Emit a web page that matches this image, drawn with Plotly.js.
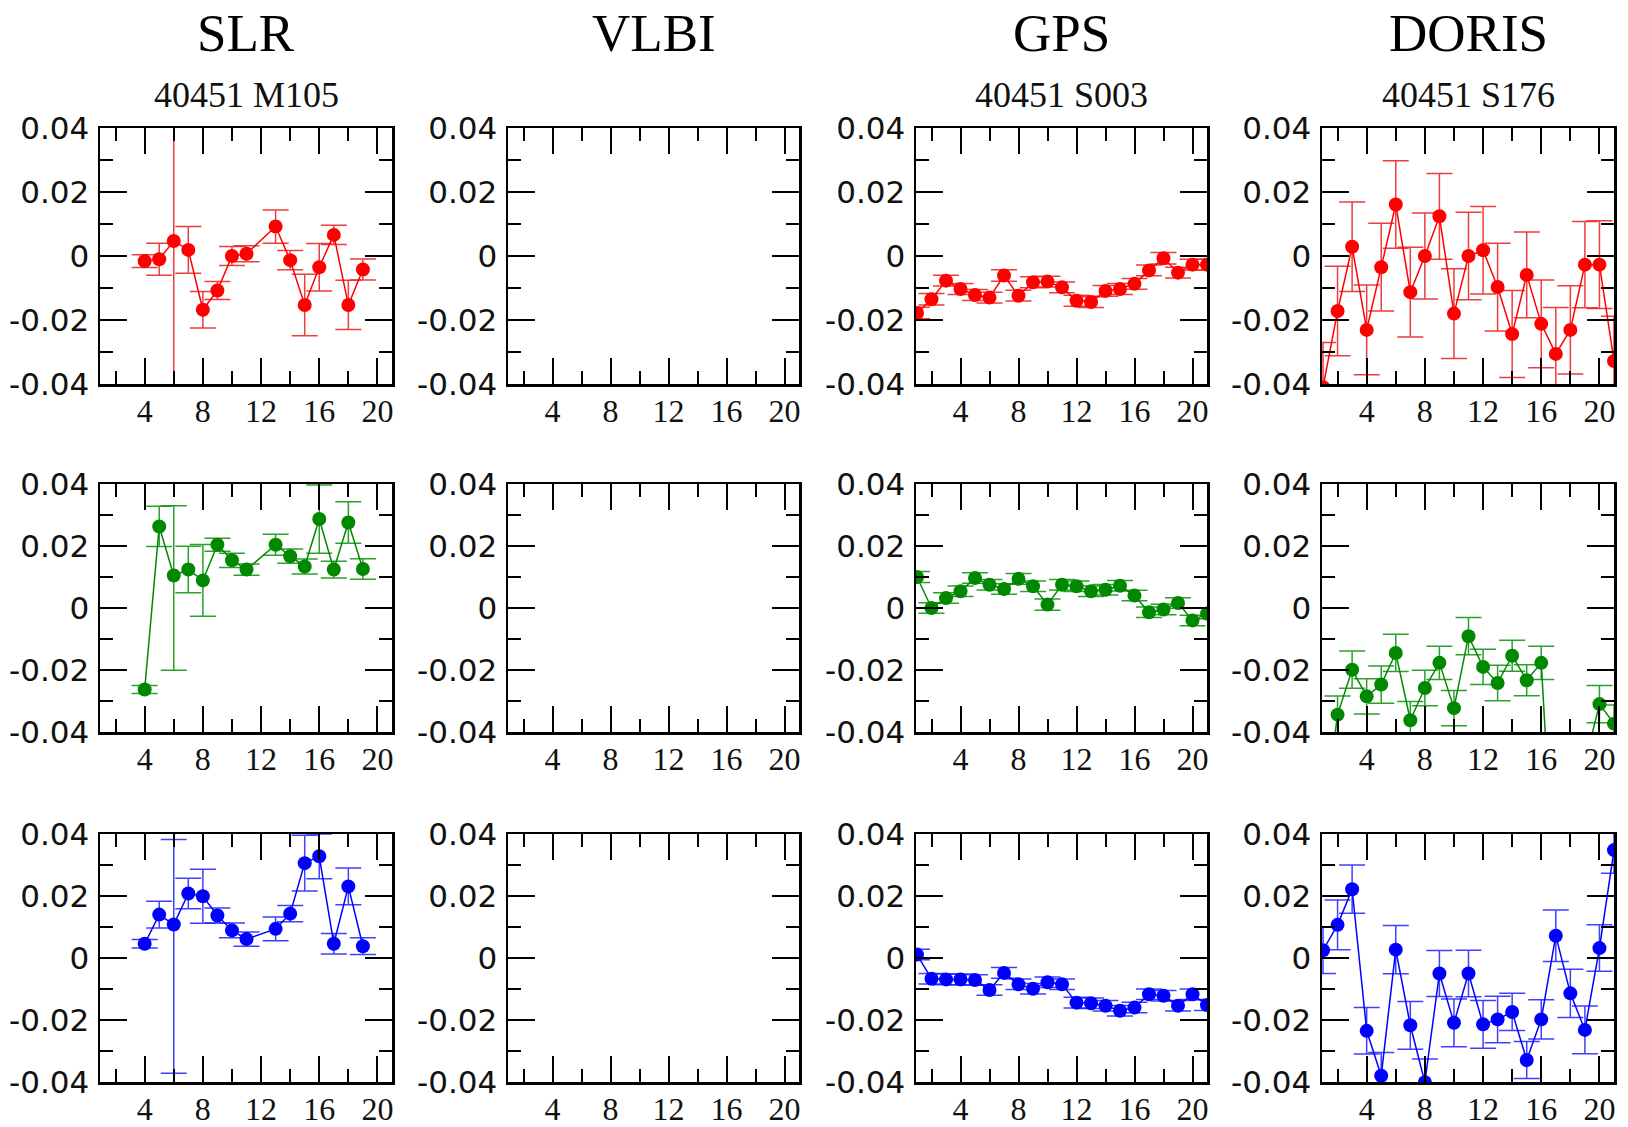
<!DOCTYPE html>
<html>
<head>
<meta charset="utf-8">
<script src="https://cdn.plot.ly/plotly-3.0.1.min.js"></script>
<style>html,body{margin:0;padding:0;background:#fff;}#chart{width:1628px;height:1127px;}</style>
</head>
<body>
<div id="chart"></div>
<script>
// ---------- data ----------
const techniques = ["SLR", "VLBI", "GPS", "DORIS"];
const stationLabels = ["40451 M105", "", "40451 S003", "40451 S176"];
const xTickVals = [4, 8, 12, 16, 20];
const xTickText = ["4", "8", "12", "16", "20"];
const xMinorVals = [2, 6, 10, 14, 18];
const yTickVals = [-0.04, -0.02, 0, 0.02, 0.04];
const yTickText = ["-0.04", "-0.02", "0", "0.02", "0.04"];
const yMinorVals = [-0.03, -0.01, 0.01, 0.03];

// SLR
const slrX = [4, 5, 6, 7, 8, 9, 10, 11, 13, 14, 15, 16, 17, 18, 19];
const slrRed = [-0.0016, -0.001, 0.0047, 0.0019, -0.0168, -0.0108, 0.0, 0.0007, 0.0092, -0.0013, -0.0153, -0.0035, 0.0066, -0.0153, -0.0042];
const slrRedErrPlus = [0.002, 0.005, 0.1, 0.0073, 0.0057, 0.0028, 0.003, 0.0025, 0.0052, 0.003, 0.0096, 0.0074, 0.003, 0.0077, 0.0033];
const slrRedErrMinus = [0.002, 0.005, 0.1, 0.0073, 0.0057, 0.0028, 0.003, 0.0025, 0.0052, 0.003, 0.0096, 0.0074, 0.003, 0.0077, 0.0033];
const slrGreen = [-0.0263, 0.0263, 0.0105, 0.0124, 0.0089, 0.0204, 0.0154, 0.0124, 0.0204, 0.0167, 0.0134, 0.0287, 0.0124, 0.0276, 0.0126];
const slrGreenErrPlus = [0.0013, 0.0065, 0.0225, 0.0075, 0.0116, 0.0021, 0.0023, 0.0018, 0.0034, 0.0023, 0.0024, 0.011, 0.0027, 0.0067, 0.0033];
const slrGreenErrMinus = [0.0013, 0.0065, 0.0306, 0.0075, 0.0116, 0.0021, 0.0023, 0.0018, 0.0034, 0.0023, 0.0024, 0.011, 0.0027, 0.0067, 0.0033];
const slrBlue = [0.0046, 0.014, 0.0108, 0.0208, 0.0199, 0.0137, 0.0089, 0.0061, 0.0094, 0.0143, 0.0306, 0.0328, 0.0046, 0.0231, 0.0038];
const slrBlueErrPlus = [0.0014, 0.0043, 0.0274, 0.0049, 0.0087, 0.0024, 0.0024, 0.0023, 0.0038, 0.0026, 0.009, 0.0072, 0.0033, 0.0059, 0.0027];
const slrBlueErrMinus = [0.0014, 0.0043, 0.048, 0.0049, 0.0087, 0.0024, 0.0024, 0.0023, 0.0038, 0.0026, 0.009, 0.0072, 0.0033, 0.0059, 0.0027];

// GPS
const gpsX = [1, 2, 3, 4, 5, 6, 7, 8, 9, 10, 11, 12, 13, 14, 15, 16, 17, 18, 19, 20, 21];
const gpsRed = [-0.0178, -0.0135, -0.0077, -0.0103, -0.0122, -0.013, -0.0061, -0.0124, -0.0082, -0.008, -0.0098, -0.014, -0.0144, -0.0109, -0.0103, -0.0087, -0.0045, -0.0007, -0.0052, -0.0027, -0.0027];
const gpsRedErr = [0.0018, 0.0018, 0.0017, 0.0017, 0.0017, 0.0017, 0.0018, 0.0017, 0.0017, 0.0017, 0.0017, 0.0017, 0.0017, 0.0017, 0.0017, 0.0017, 0.0017, 0.0018, 0.0017, 0.0017, 0.0017];
const gpsGreen = [0.010, 0.0, 0.0032, 0.0054, 0.0097, 0.0075, 0.0061, 0.0094, 0.007, 0.0011, 0.0075, 0.007, 0.0054, 0.0059, 0.0072, 0.004, -0.0014, -0.0005, 0.0016, -0.004, -0.0018];
const gpsGreenErr = [0.0018, 0.0017, 0.0017, 0.0017, 0.0017, 0.0017, 0.0017, 0.0017, 0.0017, 0.0018, 0.0017, 0.0017, 0.0017, 0.0017, 0.0017, 0.0017, 0.0017, 0.0017, 0.0017, 0.0017, 0.0017];
const gpsBlue = [0.0011, -0.0067, -0.0069, -0.0069, -0.0071, -0.0103, -0.0048, -0.0085, -0.0099, -0.0078, -0.0085, -0.0144, -0.0146, -0.0154, -0.017, -0.016, -0.0117, -0.0122, -0.0154, -0.0117, -0.0152];
const gpsBlueErr = [0.0017, 0.0017, 0.0017, 0.0017, 0.0017, 0.0017, 0.0017, 0.0017, 0.0017, 0.0017, 0.0017, 0.0017, 0.0017, 0.0017, 0.0017, 0.0017, 0.0017, 0.0017, 0.0017, 0.0017, 0.0017];

// DORIS
const dorisX = [1, 2, 3, 4, 5, 6, 7, 8, 9, 10, 11, 12, 13, 14, 15, 16, 17, 18, 19, 20, 21];
const dorisRed = [-0.041, -0.0172, 0.0029, -0.0231, -0.0035, 0.0161, -0.0113, 0.0, 0.0124, -0.018, 0.0, 0.0018, -0.0097, -0.0244, -0.0059, -0.0212, -0.0306, -0.0231, -0.0027, -0.0027, -0.0328];
const dorisRedErr = [0.014, 0.014, 0.014, 0.014, 0.0137, 0.0137, 0.014, 0.0134, 0.0134, 0.014, 0.0137, 0.0137, 0.0137, 0.0136, 0.0134, 0.0137, 0.0145, 0.0138, 0.0135, 0.0137, 0.014];
const dorisGreen = [-0.07, -0.0344, -0.0199, -0.0285, -0.0247, -0.0145, -0.0362, -0.0258, -0.0177, -0.0323, -0.0091, -0.019, -0.0242, -0.0154, -0.0233, -0.0177, -0.1, -0.08, -0.05, -0.031, -0.0373];
const dorisGreenErr = [0.006, 0.006, 0.006, 0.0057, 0.006, 0.006, 0.006, 0.0057, 0.0054, 0.0057, 0.006, 0.0057, 0.0057, 0.005, 0.005, 0.0054, 0.006, 0.006, 0.006, 0.006, 0.006];
const dorisBlue = [0.0025, 0.0107, 0.0222, -0.0235, -0.038, 0.0027, -0.0217, -0.0401, -0.005, -0.0209, -0.005, -0.0214, -0.0198, -0.0174, -0.0329, -0.0198, 0.0072, -0.0114, -0.0232, 0.0032, 0.0348];
const dorisBlueErr = [0.0075, 0.008, 0.0078, 0.0075, 0.0075, 0.0078, 0.0077, 0.0075, 0.0074, 0.0077, 0.0075, 0.0077, 0.0075, 0.006, 0.006, 0.0063, 0.0083, 0.0078, 0.0077, 0.0075, 0.0075];

// ---------- layout geometry (pixels) ----------
const W = 1628, H = 1127;
const colPx = [[100, 392], [508, 799], [916, 1207], [1322, 1614]];
const rowPx = [[128, 384], [484, 732], [834, 1082]];
const rowColors = ["#ff0000", "#008800", "#0000ff"];
const errColors = ["rgba(235,40,40,0.9)", "rgba(20,150,20,0.9)", "rgba(30,30,255,0.85)"];

const panels = [
  [
    {x: slrX, y: slrRed, plus: slrRedErrPlus, minus: slrRedErrMinus},
    null,
    {x: gpsX, y: gpsRed, plus: gpsRedErr, minus: gpsRedErr},
    {x: dorisX, y: dorisRed, plus: dorisRedErr, minus: dorisRedErr}
  ],
  [
    {x: slrX, y: slrGreen, plus: slrGreenErrPlus, minus: slrGreenErrMinus},
    null,
    {x: gpsX, y: gpsGreen, plus: gpsGreenErr, minus: gpsGreenErr},
    {x: dorisX, y: dorisGreen, plus: dorisGreenErr, minus: dorisGreenErr}
  ],
  [
    {x: slrX, y: slrBlue, plus: slrBlueErrPlus, minus: slrBlueErrMinus},
    null,
    {x: gpsX, y: gpsBlue, plus: gpsBlueErr, minus: gpsBlueErr},
    {x: dorisX, y: dorisBlue, plus: dorisBlueErr, minus: dorisBlueErr}
  ]
];

const traces = [];
const layout = {
  width: W, height: H,
  margin: {l: 0, r: 0, t: 0, b: 0},
  paper_bgcolor: "#ffffff",
  plot_bgcolor: "#ffffff",
  showlegend: false,
  annotations: []
};

for (let r = 0; r < 3; r++) {
  for (let c = 0; c < 4; c++) {
    const n = r * 4 + c + 1;
    const xa = n === 1 ? "xaxis" : "xaxis" + n;
    const ya = n === 1 ? "yaxis" : "yaxis" + n;
    const xr = n === 1 ? "x" : "x" + n;
    const yr = n === 1 ? "y" : "y" + n;
    const common = {
      ticks: "inside", tickwidth: 2, tickcolor: "#000",
      showline: true, linecolor: "#000", linewidth: 2.5, mirror: "allticks",
      showgrid: false, zeroline: false, fixedrange: true
    };
    layout[xa] = Object.assign({}, common, {
      domain: [colPx[c][0] / W, colPx[c][1] / W],
      anchor: yr,
      range: [0.93, 21.0],
      tickmode: "array", tickvals: xTickVals, ticktext: xTickText,
      ticklen: 26,
      minor: {ticks: "inside", ticklen: 13, tickwidth: 2, tickcolor: "#000", tickmode: "array", tickvals: xMinorVals, showgrid: false},
      tickfont: {family: "Liberation Serif", size: 32, color: "#111"},
      ticklabelstandoff: -3
    });
    layout[ya] = Object.assign({}, common, {
      domain: [1 - rowPx[r][1] / H, 1 - rowPx[r][0] / H],
      anchor: xr,
      range: [-0.04, 0.04],
      tickmode: "array", tickvals: yTickVals, ticktext: yTickText,
      ticklen: 27,
      minor: {ticks: "inside", ticklen: 13, tickwidth: 2, tickcolor: "#000", tickmode: "array", tickvals: yMinorVals, showgrid: false},
      tickfont: {family: "DejaVu Sans", size: 31, color: "#111"},
      ticklabelstandoff: 2
    });
    const p = panels[r][c];
    if (p) {
      traces.push({
        type: "scatter", mode: "lines+markers",
        x: p.x, y: p.y, xaxis: xr, yaxis: yr,
        line: {color: rowColors[r], width: 1.5},
        marker: {color: rowColors[r], size: 14},
        error_y: {type: "data", symmetric: false, array: p.plus, arrayminus: p.minus,
                  color: errColors[r], thickness: 1.5, width: 13},
        hoverinfo: "skip"
      });
    } else {
      traces.push({type: "scatter", mode: "markers", x: [], y: [], xaxis: xr, yaxis: yr, hoverinfo: "skip"});
    }
  }
}

for (let c = 0; c < 4; c++) {
  const cx = (colPx[c][0] + colPx[c][1]) / 2 / W;
  layout.annotations.push({
    text: techniques[c], xref: "paper", yref: "paper", x: cx, y: 1 - 33 / H,
    xanchor: "center", yanchor: "middle", showarrow: false,
    font: {family: "Liberation Serif", size: 53, color: "#000"}
  });
  if (stationLabels[c]) {
    layout.annotations.push({
      text: stationLabels[c], xref: "paper", yref: "paper", x: cx, y: 1 - 95 / H,
      xanchor: "center", yanchor: "middle", showarrow: false,
      font: {family: "Liberation Serif", size: 36, color: "#111"}
    });
  }
}

Plotly.newPlot("chart", traces, layout, {staticPlot: true, displayModeBar: false});
</script>
</body>
</html>
